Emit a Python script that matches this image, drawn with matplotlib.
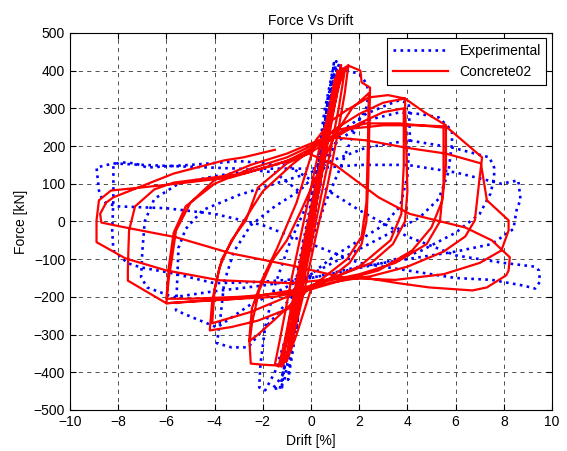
import matplotlib
matplotlib.use("Agg")
import matplotlib.pyplot as plt

plt.rcParams["font.family"] = ["Liberation Sans", "DejaVu Sans"]
plt.rcParams["font.size"] = 10

# Concrete02 model: one list per cycle
conc_drift = [
    [0, 0.3, 0.6, 0.9, 1.0, 0.85, 0.5, 0.1, -0.3, -0.6, -0.8],
    [-0.6, -0.25, 0.1, 0.5, 0.85, 1.1, 0.95, 0.6, 0.2, -0.2, -0.6, -1.0],
    [-0.8, -0.4, 0.0, 0.4, 0.8, 1.15, 1.25, 1.05, 0.7, 0.25, -0.15, -0.6, -1.0, -1.2],
    [-1.0, -0.55, -0.1, 0.35, 0.8, 1.2, 1.45, 1.4, 1.15, 0.75, 0.3, -0.15, -0.6,
     -1.0, -1.35],
    [-1.1, -0.7, -0.25, 0.2, 0.65, 1.05, 1.35, 1.55, 1.4, 1.1, 0.7, 0.2, -0.3,
     -0.8, -1.2, -1.5],
    [-1.25, -0.8, -0.3, 0.3, 0.9, 1.3, 1.6, 2.05, 2.1, 2.45, 2.42, 2.38, 2.3, 2.1,
     1.6, 0.8, 0.0, -0.6, -1.0, -1.4, -2.0, -2.5],
    [-2.55, -2.45, -2.15, -1.6, -1.0, -0.4, 0.3, 1.0, 1.7, 2.4, 2.36, 2.3, 2.1,
     1.5, 0.5, -0.5, -1.5, -2.2, -2.57],
    [-2.45, -2.0, -1.4, -0.6, 0.2, 0.8, 1.45, 2.4, 3.2, 3.9, 3.95, 4.0, 3.9, 3.4,
     2.5, 1.3, 0.0, -0.8, -2.2, -3.3, -4.2],
    [-4.1, -3.8, -3.3, -2.7, -2.2, -1.0, -0.1, 0.8, 2.0, 3.0, 3.85, 3.85, 3.75,
     3.3, 2.0, 0.5, -1.0, -2.5, -4.1],
    [-4.0, -3.7, -3.0, -2.0, -0.8, 0.2, 1.0, 2.0, 3.0, 3.9, 4.7, 5.6, 5.6, 5.45,
     5.0, 4.2, 2.8, 1.3, 0.0, -1.5, -3.0, -4.5, -6.0],
    [-5.9, -5.8, -5.6, -5.0, -4.0, -2.5, -1.0, 0.5, 1.0, 2.3, 3.65, 5.5, 5.5, 5.35,
     4.8, 3.5, 2.0, 0.5, -1.0, -3.0, -5.0, -6.0],
    [-5.9, -5.7, -5.2, -4.0, -2.5, -1.0, 0.5, 1.5, 3.0, 4.5, 5.6, 7.1, 7.0, 6.8,
     6.4, 5.5, 4.0, 2.5, 1.0, -0.5, -3.0, -6.0, -7.6],
    [-7.6, -7.58, -7.55, -7.3, -6.5, -5.7, -4.0, -2.8, -1.0, 0.9, 2.3, 4.0, 5.6,
     7.05, 7.3, 8.2, 8.2, 7.9, 7.0, 5.5, 3.5, 1.3, -0.8, -3.8, -6.0, -7.7, -8.9],
    [-8.9, -8.8, -8.3, -7.05, -5.6, -3.3, -1.5, -0.1, 1.0, 2.8, 4.1, 6.4, 7.5,
     8.25, 8.2, 8.1, 7.3, 6.7, 4.9, 3.65, 2.1, 1.3, -0.8, -3.3, -5.6, -7.7, -8.7],
    [-8.75, -8.5, -8.2, -5.7, -3.6, -2.8, -1.5],
]
conc_force = [
    [0, 120, 250, 350, 380, 300, 150, 0, -130, -250, -330],
    [-250, -100, 20, 170, 310, 400, 320, 180, 40, -100, -240, -365],
    [-270, -130, 0, 150, 290, 390, 415, 330, 210, 60, -80, -220, -320, -375],
    [-300, -160, -20, 120, 260, 370, 410, 400, 300, 170, 30, -110, -250,
     -350, -385],
    [-320, -190, -40, 100, 230, 340, 400, 415, 340, 230, 100, -40, -190,
     -320, -385, -380],
    [-300, -150, 0, 180, 330, 405, 412, 400, 369, 355, 250, 120, 0, -60,
     -110, -150, -180, -300, -370, -382, -380, -377],
    [-323, -270, -183, -103, -50, 30, 130, 230, 300, 340, 200, 50, -40,
     -100, -150, -200, -260, -300, -318],
    [-230, -150, -70, 50, 215, 265, 294, 329, 335, 326, 200, 80, 0, -60,
     -110, -140, -170, -228, -263, -280, -289],
    [-210, -122, -50, 3, 90, 154, 180, 215, 260, 290, 300, 150, 20,
     -50, -120, -160, -200, -240, -270],
    [-180, -100, -20, 80, 150, 200, 245, 285, 315, 326, 290, 255, 150, 56,
     -16, -77, -130, -156, -180, -200, -205, -210, -217],
    [-150, -111, -24, 50, 110, 150, 180, 220, 241, 260, 260, 249, 100, 0,
     -60, -110, -140, -160, -190, -200, -205, -205],
    [-120, -30, 40, 100, 140, 170, 215, 245, 255, 255, 252, 170, 117, 3,
     -40, -80, -120, -145, -160, -180, -205, -217, -157],
    [-130, -80, -24, 40, 85, 103, 117, 127, 160, 223, 215, 195, 180,
     154, 56, 3, -24, -77, -110, -140, -155, -150, -164, -156, -130, -98, -55],
    [3, 56, 82, 90, 100, 117, 150, 180, 150, 64, 20, -16, -50,
     -95, -130, -143, -175, -183, -175, -164, -148, -148, -117, -85, -42, -16, -3],
    [20, 50, 64, 127, 162, 170, 190],
]

# Experimental test
exp_drift = [
    [0, 0.2, 0.45, 0.7, 0.6, 0.3, 0.0, -0.3, -0.6, -0.5, -0.2, 0.1],
    [0.4, 0.7, 0.95, 0.8, 0.45, 0.1, -0.3, -0.65, -0.95],
    [-0.8, -0.5, -0.15, 0.2, 0.55, 0.9, 1.05, 0.85, 0.5, 0.1, -0.3, -0.7, -1.1, -1.3],
    [-1.0, -0.6, -0.2, 0.2, 0.6, 0.95, 1.15, 1.0, 0.6, 0.2, -0.25, -0.7, -1.2,
     -1.6, -1.2],
    [-1.1, -0.8, -0.4, 0.0, 0.4, 0.8, 1.1, 1.45, 2.0, 2.3, 2.4, 2.3, 2.0, 1.7,
     1.2, 0.6, 0.1, -0.4, -0.9, -1.5, -1.9, -2.15],
    [-2.1, -1.9, -1.5, -0.9, -0.2, 0.6, 1.3, 2.3, 3.2, 3.65, 4.06, 4.1, 4.0, 3.7,
     3.0, 2.0, 1.0, 0.0, -0.8, -1.6, -2.3, -2.6, -3.3, -3.9],
    [-3.75, -3.6, -3.2, -2.5, -1.5, -0.5, 0.3, 1.0, 2.3, 3.65, 4.5, 5.3, 5.85,
     5.85, 5.7, 5.3, 4.5, 3.0, 1.5, 0.0, -1.2, -2.5, -3.9, -4.9, -5.6],
    [-5.55, -5.5, -5.2, -4.5, -3.0, -1.5, 0.0, 0.9, 2.3, 4.06, 5.85, 7.4, 7.6,
     7.6, 7.45, 7.0, 6.0, 4.5, 3.0, 1.5, 0.0, -2.0, -4.0, -5.7, -6.8, -7.05],
    [-7.0, -6.9, -6.5, -5.5, -4.0, -2.0, 0.0, 2.0, 4.0, 6.0, 7.9, 8.6, 8.7, 8.55,
     8.4, 7.5, 6.0, 4.0, 2.0, 0.0, -2.0, -4.0, -5.7, -7.05, -7.6, -8.2, -8.25],
    [-8.2, -8.2, -7.9, -7.3, -6.8, -5.0, -3.0, -1.0, 0.5, 2.0, 4.0, 6.0, 8.0,
     9.3, 9.46, 9.5, 9.3, 8.8, 7.5, 6.0, 4.0, 2.0, 0.0, -2.0, -4.0, -6.0, -8.0,
     -8.5, -8.7, -8.8, -8.9],
    [-8.2, -7.0, -5.0, -3.0, -1.5, -0.5],
]
exp_force = [
    [0, 100, 220, 330, 250, 120, 0, -120, -290, -200, -80, 40],
    [180, 320, 420, 330, 170, 20, -150, -300, -420],
    [-330, -190, -30, 120, 290, 400, 425, 340, 190, 40, -120, -280, -420, -445],
    [-360, -220, -60, 100, 260, 380, 415, 330, 180, 30, -130, -290, -410,
     -445, -440],
    [-350, -220, -80, 50, 200, 340, 410, 400, 392, 366, 340, 302, 268, 223,
     140, 50, -40, -150, -280, -400, -448, -440],
    [-380, -280, -170, -60, 40, 150, 241, 286, 310, 321, 313, 230, 120, 40,
     -10, -50, -90, -140, -200, -260, -310, -334, -334, -323],
    [-250, -160, -80, -10, 40, 80, 130, 207, 268, 289, 285, 276, 241,
     207, 130, 60, 10, -40, -90, -140, -180, -220, -281, -255, -236],
    [-150, -70, -20, 30, 70, 100, 130, 162, 196, 215, 196, 170, 143,
     117, 74, 20, -30, -80, -110, -130, -150, -170, -185, -201, -175, -148],
    [-80, 0, 60, 100, 120, 140, 140, 150, 150, 130, 100, 109, 56, 37,
     -20, -60, -80, -100, -120, -150, -160, -164, -138, -122, -111, -77, -24],
    [60, 150, 157, 154, 143, 150, 160, 150, 90, 30, -40, -90, -110,
     -120, -130, -160, -178, -170, -155, -150, -130, -110, -60, -10, 20, 35, 40,
     48, 64, 82, 143],
    [154, 150, 145, 140, 130, 80],
]


def flatten(parts):
    out = []
    for p in parts:
        out.extend(p)
    return out


fig = plt.figure(figsize=(5.67, 4.51), dpi=100)
ax = fig.add_axes([0.1235, 0.091, 0.85, 0.836])

ax.plot(flatten(exp_drift), flatten(exp_force), color=(0, 0, 1), ls=":",
        lw=1.9, label="Experimental")
ax.plot(flatten(conc_drift), flatten(conc_force), color=(1, 0, 0), ls="-",
        lw=1.6, label="Concrete02")

ax.set_xlim(-10, 10)
ax.set_ylim(-500, 500)
ax.set_xticks(range(-10, 11, 2))
ax.set_yticks(range(-500, 501, 100))
ax.tick_params(direction="in", top=True, right=True, length=4, width=0.8)
ax.grid(True, color="k", ls=(0, (5, 5)), lw=0.6, alpha=0.8)
for s in ax.spines.values():
    s.set_linewidth(0.8)

ax.set_title("Force Vs Drift", fontsize=10)
ax.set_xlabel("Drift [%]")
ax.set_ylabel("Force [kN]")

leg = ax.legend(loc="upper right", fancybox=False, edgecolor="k",
                framealpha=1, handlelength=4, borderaxespad=0.4)
leg.get_frame().set_linewidth(0.8)

fig.savefig("out.png", dpi=100)
